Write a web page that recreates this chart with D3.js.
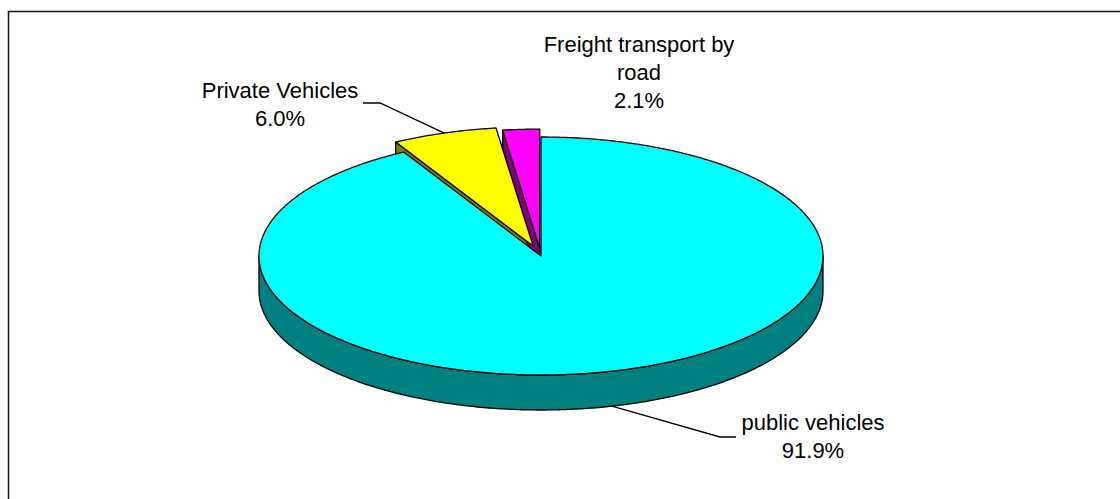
<!DOCTYPE html>
<html>
<head>
<meta charset="utf-8">
<script src="https://cdn.jsdelivr.net/npm/d3@7"></script>
<style>
  body { margin: 0; background: #fff; }
  svg { display: block; }
  text { font-family: "Liberation Sans", Arial, sans-serif; font-size: 22px; fill: #000; }
</style>
</head>
<body>
<div id="chart"></div>
<script>
// chart data
var categories = ['public vehicles', 'Private Vehicles', 'Freight transport by road'];
var values = [91.9, 6.0, 2.1];
var labelLines = [['public vehicles'], ['Private Vehicles'], ['Freight transport by', 'road']];
var topColors = ['#00FFFF', '#FFFF00', '#FF00FF'];
var sideColors = ['#008080', '#808000', '#800080'];
var exploded = [0, 1, 0.75];

var W = 1120, H = 499;
var cx = 541, cy = 256, rx = 282, ry = 119, depth = 35, expl = 25;
var lineH = 28;

var svg = d3.select('#chart')
  .append('svg')
  .attr('width', W)
  .attr('height', H);

// chart area border (runs off the right and bottom)
svg.append('rect')
  .attr('x', 8.5)
  .attr('y', 11.5)
  .attr('width', 1200)
  .attr('height', 600)
  .attr('fill', 'none')
  .attr('stroke', '#111')
  .attr('stroke-width', 1.5);

var arcs = d3.pie().sort(null)(values);
arcs.forEach(function (d, i) {
  d.mid = (d.startAngle + d.endAngle) / 2;
  d.dx = exploded[i] * expl * Math.sin(d.mid);
  d.dy = -exploded[i] * expl * Math.cos(d.mid) * ry / rx;
  d.i = i;
});

function pt(d, a, r, z) {
  return [cx + d.dx + r * rx * Math.sin(a), cy + d.dy - r * ry * Math.cos(a) + z];
}
function arcPts(d, a0, a1, z) {
  var n = Math.max(2, Math.ceil((a1 - a0) / 0.01));
  return d3.range(n + 1).map(function (k) { return pt(d, a0 + (a1 - a0) * k / n, 1, z); });
}
var line = d3.line();
function poly(pts, fill) {
  svg.append('path')
    .attr('d', line(pts) + 'Z')
    .attr('fill', fill)
    .attr('stroke', '#000')
    .attr('stroke-width', 1.3)
    .attr('stroke-linejoin', 'round');
}

// radial faces that face the viewer
arcs.forEach(function (d) {
  [[d.startAngle, -1], [d.endAngle, 1]].forEach(function (f) {
    if (f[1] * Math.sin(f[0]) > 1e-6) {
      poly([pt(d, f[0], 0, 0), pt(d, f[0], 1, 0), pt(d, f[0], 1, depth), pt(d, f[0], 0, depth)],
        sideColors[d.i]);
    }
  });
});

// outer walls (front half only)
arcs.forEach(function (d) {
  var a0 = Math.max(d.startAngle, Math.PI / 2), a1 = Math.min(d.endAngle, 3 * Math.PI / 2);
  if (a1 > a0) {
    poly(arcPts(d, a0, a1, 0).concat(arcPts(d, a0, a1, depth).reverse()), sideColors[d.i]);
  }
});

// tops
arcs.forEach(function (d) {
  poly([pt(d, 0, 0, 0)].concat(arcPts(d, d.startAngle, d.endAngle, 0)), topColors[d.i]);
});

// leader lines
var leaders = [
  [[736, 437], [720, 437], pt(arcs[0], arcs[0].mid, 1, depth)],
  [[363, 103], [380, 103], pt(arcs[1], arcs[1].mid, 1, 0)]
];
leaders.forEach(function (l) {
  svg.append('path')
    .attr('d', line(l))
    .attr('fill', 'none')
    .attr('stroke', '#000')
    .attr('stroke-width', 1.3);
});

// data labels
var labelPos = [[813, 430], [280, 98], [639, 52]];
var fmt = d3.format('.1%');
arcs.forEach(function (d) {
  var p = labelPos[d.i];
  var lines = labelLines[d.i].concat([fmt(values[d.i] / 100)]);
  var t = svg.append('text')
    .attr('text-anchor', 'middle');
  lines.forEach(function (s, k) {
    t.append('tspan')
      .attr('x', p[0])
      .attr('y', p[1] + k * lineH)
      .text(s);
  });
});
</script>
</body>
</html>
